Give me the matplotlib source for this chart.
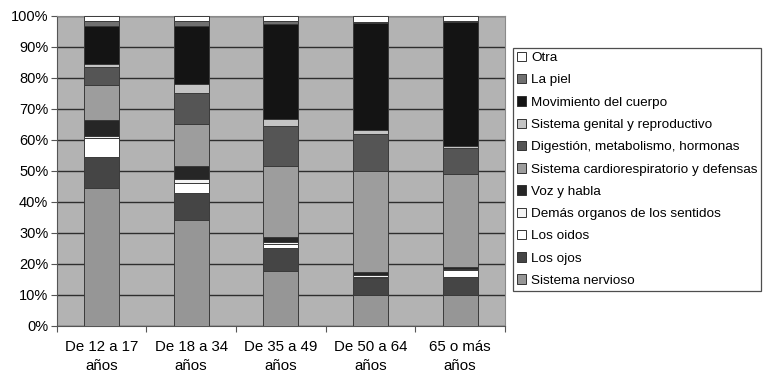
import numpy as np
import matplotlib
matplotlib.use("Agg")
import matplotlib.pyplot as plt
from matplotlib.patches import Patch

plt.rcParams['font.family'] = ['Liberation Sans', 'DejaVu Sans']

grupos = ['De 12 a 17\naños', 'De 18 a 34\naños', 'De 35 a 49\naños', 'De 50 a 64\naños', '65 o más\naños']

# from bottom to top of each bar
categorias = ['Sistema nervioso', 'Los ojos', 'Los oidos', 'Demás organos de los sentidos',
              'Voz y habla', 'Sistema cardiorespiratorio y defensas',
              'Digestión, metabolismo, hormonas', 'Sistema genital y reproductivo',
              'Movimiento del cuerpo', 'La piel', 'Otra']

sistema_nervioso = [44.3, 34.3, 17.7, 9.9, 9.9]
los_ojos = [9.8, 8.5, 7.3, 5.4, 6.0]
los_oidos = [6.3, 3.4, 1.3, 0.6, 2.1]
demas_sentidos = [0.5, 1.1, 0.6, 0.5, 0.3]
voz_habla = [5.1, 4.1, 1.5, 1.1, 0.6]
cardio = [11.2, 13.6, 22.8, 32.3, 30.1]
digestion = [5.9, 10.0, 12.7, 12.0, 8.3]
genital = [0.9, 3.0, 2.4, 1.4, 0.7]
movimiento = [12.2, 18.8, 30.2, 34.6, 40.0]
la_piel = [1.8, 1.6, 1.1, 0.3, 0.3]
otra = [1.6, 1.6, 1.7, 1.9, 1.7]

series = [sistema_nervioso, los_ojos, los_oidos, demas_sentidos, voz_habla, cardio,
          digestion, genital, movimiento, la_piel, otra]
colores = ['#969696', '#454545', '#ffffff', '#f4f4f4', '#262626', '#9d9d9d',
           '#555555', '#c4c4c4', '#141414', '#707070', '#ffffff']

datos = np.array(series, dtype=float)
datos = 100 * datos / datos.sum(axis=0)

fig = plt.figure(figsize=(7.71, 3.79), dpi=100)
ax = fig.add_axes([0.0735, 0.14, 0.5815, 0.8186])
ax.set_facecolor('#b3b3b3')

x = np.arange(len(grupos))
base = np.zeros(len(grupos))
for vals, col in zip(datos, colores):
    ax.bar(x, vals, bottom=base, width=0.39, color=col, edgecolor='#3a3a3a',
           linewidth=0.7, zorder=3)
    base += vals

ax.set_xlim(-0.5, len(grupos) - 0.5)
ax.set_ylim(0, 100)
ax.set_yticks(np.arange(0, 101, 10))
ax.set_yticklabels([f'{v}%' for v in range(0, 101, 10)], fontsize=10.5)
ax.yaxis.grid(True, color='#2e2e2e', linewidth=1.0, zorder=1)
ax.set_axisbelow(True)

ax.set_xticks(np.arange(-0.5, len(grupos), 1.0))
ax.set_xticklabels([])
ax.set_xticks(x, minor=True)
ax.set_xticklabels(grupos, minor=True, fontsize=10.8, ha='center', linespacing=1.45)
ax.tick_params(axis='x', which='minor', length=0, pad=10)
ax.tick_params(axis='x', which='major', length=4, color='#555555')
ax.tick_params(axis='y', length=4, color='#555555', pad=2)

for s in ['top', 'right']:
    ax.spines[s].set_color('#8a8a8a')
ax.spines['left'].set_color('#555555')
ax.spines['bottom'].set_color('#555555')

handles = [Patch(facecolor=c, edgecolor='#333333', linewidth=0.7, label=l)
           for c, l in zip(colores, categorias)]
leg = fig.legend(handles[::-1], categorias[::-1], loc='upper left',
                 bbox_to_anchor=(0.665, 0.874), fontsize=9.7, frameon=True,
                 fancybox=False, edgecolor='#222222', handlelength=0.7,
                 handleheight=0.7, handletextpad=0.35, labelspacing=0.73,
                 borderpad=0.3, borderaxespad=0)
leg.get_frame().set_linewidth(0.9)

plt.savefig('out.png', dpi=100)
